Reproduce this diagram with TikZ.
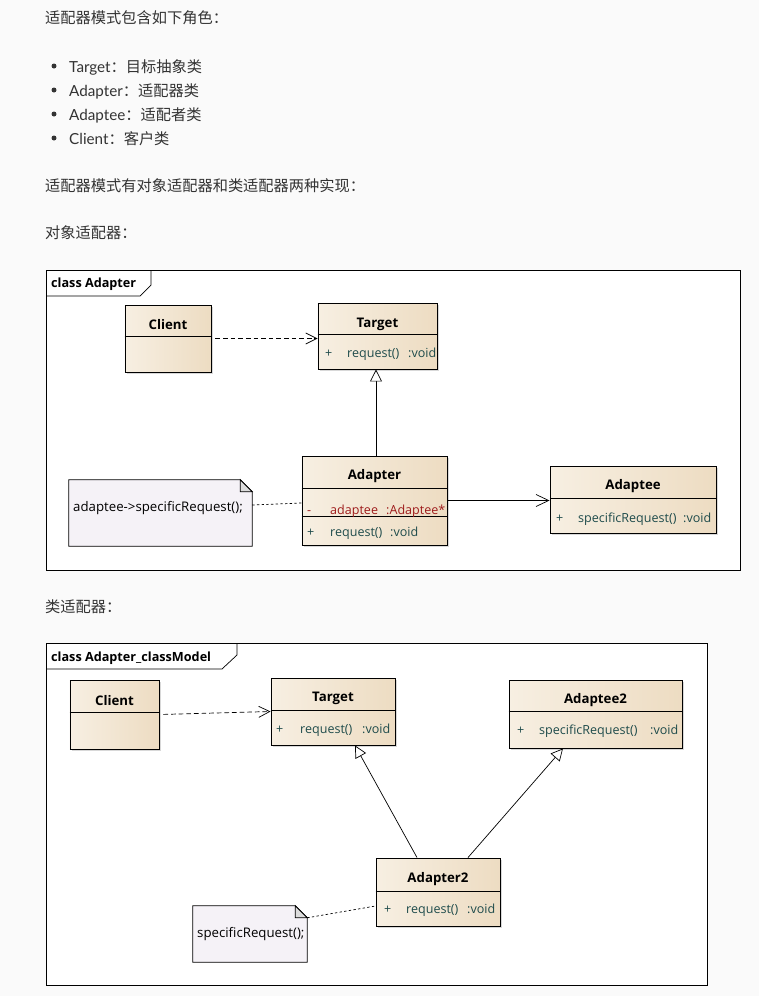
\documentclass[tikz,border=0pt]{standalone}
\usepackage{fontspec}
\setmainfont{Lato}
\newfontfamily\cjk{Noto Sans CJK SC}
\newfontfamily\umlfont{Open Sans}
\usetikzlibrary{arrows.meta, shadows}

\definecolor{pagebg}{HTML}{FAFAFA}
\definecolor{bodytext}{HTML}{333333}
\definecolor{classA}{HTML}{F7EFE2}
\definecolor{classB}{HTML}{EDDCC2}
\definecolor{notefill}{HTML}{F5F2F7}
\definecolor{foldfill}{HTML}{DCDCDC}
\definecolor{membtext}{HTML}{1E4B4B}
\definecolor{privtext}{HTML}{9E1B1B}

% one row of a class: name, baseline, x of sign / name / type, texts, colour
\newcommand{\member}[9]{%
  \node[memb, text=#9] (#1-s) at (#3,#2) {#6};
  \node[memb, text=#9] (#1-n) at (#4,#2) {#7};
  \node[memb, text=#9] (#1-t) at (#5,#2) {#8};}

\begin{document}
\begin{tikzpicture}[
    x=0.03cm, y=-0.03cm,
    para/.style={font=\fontsize{13pt}{15pt}\selectfont, text=bodytext, anchor=base west, inner sep=0pt},
    frame/.style={draw, line width=0.6pt, fill=white},
    tab/.style={draw, line width=0.6pt},
    tabtext/.style={font=\umlfont\bfseries\fontsize{10.8pt}{12pt}\selectfont, anchor=base west, inner sep=0pt},
    classbox/.style={draw, line width=0.8pt, inner sep=0pt, left color=classA, right color=classB,
        drop shadow={shadow xshift=0.07cm, shadow yshift=-0.07cm, opacity=0.3}},
    sepline/.style={line width=0.7pt},
    title/.style={font=\umlfont\bfseries\fontsize{11.3pt}{13pt}\selectfont, anchor=base, inner sep=0pt},
    memb/.style={font=\umlfont\fontsize{10.7pt}{12pt}\selectfont, anchor=base west, inner sep=0pt},
    notetext/.style={font=\umlfont\fontsize{11.3pt}{13pt}\selectfont, anchor=base west, inner sep=0pt},
    notebox/.style={inner sep=0pt},
    noteshape/.style={draw, line width=0.7pt, fill=notefill},
    fold/.style={draw, line width=0.7pt, fill=foldfill},
    dep/.style={dash pattern=on 4pt off 2.5pt, line width=0.6pt, shorten <=0.12cm,
        -{Straight Barb[length=0.33cm, width=0.33cm]}},
    assoc/.style={line width=0.6pt, -{Straight Barb[length=0.38cm, width=0.36cm]}},
    gen/.style={line width=0.6pt, -{Triangle[open, length=0.36cm, width=0.36cm, fill=white]}},
    notelink/.style={dash pattern=on 2pt off 2pt, line width=0.6pt}
]

\useasboundingbox[fill=pagebg] (0,0) rectangle (759,996);

% text above the diagrams
\node[para] (intro) at (45,23) {\cjk 适配器模式包含如下角色：};
\foreach \yy in {66,90,114,138}
  \fill[bodytext] (54,\yy) circle (0.075cm);
\node[para] (item-target) at (69,72) {Target{\cjk ：目标抽象类}};
\node[para] (item-adapter) at (69,96) {Adapter{\cjk ：适配器类}};
\node[para] (item-adaptee) at (69,120) {Adaptee{\cjk ：适配者类}};
\node[para] (item-client) at (69,144) {Client{\cjk ：客户类}};
\node[para] (kinds) at (45,191) {\cjk 适配器模式有对象适配器和类适配器两种实现：};
\node[para] (objhead) at (45,238) {\cjk 对象适配器：};
\node[para] (clshead) at (45,612) {\cjk 类适配器：};

% ---- object adapter ----
\draw[frame] (46,270) rectangle (740,570);
\draw[tab] (46,296) -- (140,296) -- (151,285) -- (151,270);
\node[tabtext] (frame1-name) at (51,287) {class Adapter};

\node[classbox, minimum width=2.58cm, minimum height=2.01cm] (client) at (168,338.5) {};
\draw[sepline] ([yshift=-0.96cm]client.north west) -- ([yshift=-0.96cm]client.north east);
\node[title] (client-name) at (168,329) {Client};

\node[classbox, minimum width=3.57cm, minimum height=1.98cm] (target) at (377.5,336) {};
\draw[sepline] ([yshift=-0.96cm]target.north west) -- ([yshift=-0.96cm]target.north east);
\node[title] (target-name) at (377.5,327) {Target};
\member{target-op}{357}{325}{347}{408}{+}{request()}{:void}{membtext}

\node[classbox, minimum width=4.35cm, minimum height=2.67cm] (adapter) at (374.5,500.5) {};
\draw[sepline] ([yshift=-0.99cm]adapter.north west) -- ([yshift=-0.99cm]adapter.north east);
\draw[sepline] ([yshift=-1.83cm]adapter.north west) -- ([yshift=-1.83cm]adapter.north east);
\node[title] (adapter-name) at (374.5,479) {Adapter};
\member{adapter-att}{514}{307}{330}{386}{-}{adaptee}{:Adaptee*}{privtext}
\member{adapter-op}{536}{307}{330}{390}{+}{request()}{:void}{membtext}

\node[classbox, minimum width=4.98cm, minimum height=2.01cm] (adaptee) at (633,499.5) {};
\draw[sepline] ([yshift=-0.99cm]adaptee.north west) -- ([yshift=-0.99cm]adaptee.north east);
\node[title] (adaptee-name) at (633,489) {Adaptee};
\member{adaptee-op}{522}{556}{578}{683}{+}{specificRequest()}{:void}{membtext}

\node[notebox, minimum width=5.49cm, minimum height=1.98cm] (note1) at (160.5,513) {};
\draw[noteshape] (note1.south west) -- (note1.north west) -- ([xshift=-0.36cm]note1.north east)
  -- ([yshift=-0.36cm]note1.north east) -- (note1.south east) -- cycle;
\draw[fold] ([xshift=-0.36cm]note1.north east) -- ([xshift=-0.36cm,yshift=-0.36cm]note1.north east)
  -- ([yshift=-0.36cm]note1.north east) -- cycle;
\node[notetext] (note1-text) at (73,511) {adaptee->specificRequest();};

\draw[dep] (client.east) -- (client.east -| target.west);
\draw[gen] ([xshift=0.045cm]adapter.north) -- ([xshift=-0.045cm]target.south);
\draw[notelink] ([yshift=0.24cm]note1.east) -- ([yshift=-0.075cm]adapter.west);
\draw[assoc] (adapter.east) -- (adapter.east -| adaptee.west);

% ---- class adapter ----
\draw[frame] (46,643) rectangle (707,985);
\draw[tab] (46,669) -- (222,669) -- (237,655) -- (237,643);
\node[tabtext] (frame2-name) at (51,661) {class Adapter\_classModel};

\node[classbox, minimum width=2.67cm, minimum height=2.07cm] (client2) at (114.5,714.5) {};
\draw[sepline] ([yshift=-0.99cm]client2.north west) -- ([yshift=-0.99cm]client2.north east);
\node[title] (client2-name) at (114.5,705) {Client};

\node[classbox, minimum width=3.72cm, minimum height=2.01cm] (target2) at (333,711.5) {};
\draw[sepline] ([yshift=-0.99cm]target2.north west) -- ([yshift=-0.99cm]target2.north east);
\node[title] (target2-name) at (333,701) {Target};
\member{target2-op}{733}{276}{300}{362}{+}{request()}{:void}{membtext}

\node[classbox, minimum width=5.19cm, minimum height=2.04cm] (adaptee2) at (595.5,714) {};
\draw[sepline] ([yshift=-0.96cm]adaptee2.north west) -- ([yshift=-0.96cm]adaptee2.north east);
\node[title] (adaptee2-name) at (595.5,703) {Adaptee2};
\member{adaptee2-op}{734}{517}{539}{650}{+}{specificRequest()}{:void}{membtext}

\node[classbox, minimum width=3.72cm, minimum height=2.04cm] (adapter2) at (438,892) {};
\draw[sepline] ([yshift=-1.02cm]adapter2.north west) -- ([yshift=-1.02cm]adapter2.north east);
\node[title] (adapter2-name) at (438,882) {Adapter2};
\member{adapter2-op}{913}{384}{406}{467}{+}{request()}{:void}{membtext}

\node[notebox, minimum width=3.42cm, minimum height=1.68cm] (note2) at (250,934) {};
\draw[noteshape] (note2.south west) -- (note2.north west) -- ([xshift=-0.36cm]note2.north east)
  -- ([yshift=-0.36cm]note2.north east) -- (note2.south east) -- cycle;
\draw[fold] ([xshift=-0.36cm]note2.north east) -- ([xshift=-0.36cm,yshift=-0.36cm]note2.north east)
  -- ([yshift=-0.36cm]note2.north east) -- cycle;
\node[notetext] (note2-text) at (197,937) {specificRequest();};

\draw[dep] (client2.east) -- (target2.west);
\draw[gen] ([xshift=-0.63cm]adapter2.north) -- ([xshift=0.66cm]target2.south);
\draw[gen] ([xshift=0.9cm]adapter2.north) -- ([xshift=-0.975cm]adaptee2.south);
\draw[notelink] ([yshift=-0.36cm]note2.north east) -- ([yshift=-0.42cm]adapter2.west);

\end{tikzpicture}
\end{document}
